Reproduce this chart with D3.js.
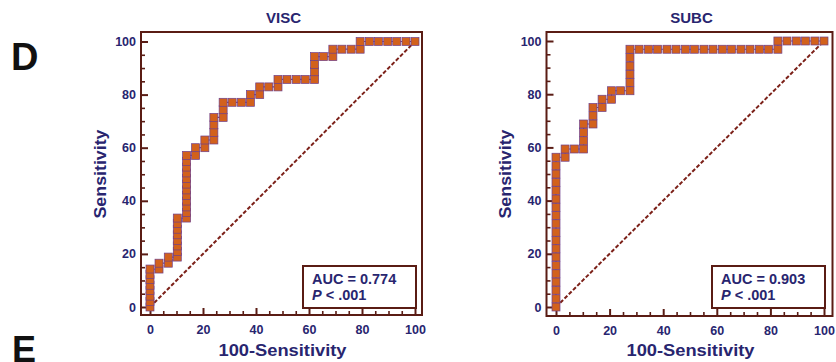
<!DOCTYPE html>
<html>
<head>
<meta charset="utf-8">
<script src="https://cdn.jsdelivr.net/npm/d3@7"></script>
<style>
body { margin: 0; background: #fff; }
svg { display: block; font-family: "Liberation Sans", Arial, sans-serif; }
</style>
</head>
<body>
<svg id="chart" width="836" height="362"></svg>
<script>
// ROC points (100-specificity, sensitivity)
const viscX = [0, 0, 0, 0, 0, 0, 0, 0,
    3.4, 3.4, 6.9, 6.9,
    10.3, 10.3, 10.3, 10.3, 10.3, 10.3, 10.3, 10.3,
    13.8, 13.8, 13.8, 13.8, 13.8, 13.8, 13.8, 13.8, 13.8, 13.8, 13.8, 13.8,
    17.2, 17.2, 20.7, 20.7,
    24.1, 24.1, 24.1, 24.1, 27.6, 27.6, 27.6,
    31.0, 34.5, 37.9, 37.9, 41.4, 41.4, 44.8, 48.3, 48.3,
    51.7, 55.2, 58.6, 62.1, 62.1, 62.1, 62.1,
    65.5, 69.0, 69.0, 72.4, 75.9, 79.3, 79.3,
    82.8, 86.2, 89.7, 93.1, 96.6, 100]
const viscY = [0, 2.1, 4.1, 6.2, 8.2, 10.3, 12.3, 14.3,
    14.3, 16.5, 16.5, 18.8,
    18.8, 20.9, 23.0, 25.1, 27.2, 29.3, 31.4, 33.5,
    33.5, 35.6, 37.7, 39.9, 42.0, 44.1, 46.3, 48.4, 50.5, 52.7, 54.8, 57.1,
    57.1, 60.0, 60.0, 62.9,
    62.9, 65.7, 68.6, 71.4, 71.4, 74.3, 77.1,
    77.1, 77.1, 77.1, 80.0, 80.0, 82.9, 82.9, 82.9, 85.7,
    85.7, 85.7, 85.7, 85.7, 88.6, 91.4, 94.3,
    94.3, 94.3, 97.1, 97.1, 97.1, 97.1, 100,
    100, 100, 100, 100, 100, 100]

const subcX = [0, 0, 0, 0, 0, 0, 0, 0, 0, 0, 0, 0, 0, 0, 0, 0, 0, 0, 0,
    3.4, 3.4, 6.9, 10.3, 10.3, 10.3, 10.3,
    13.8, 13.8, 13.8, 17.2, 17.2, 20.7, 20.7, 24.1,
    27.6, 27.6, 27.6, 27.6, 27.6, 27.6,
    31.0, 34.5, 37.9, 41.4, 44.8, 48.3, 51.7, 55.2, 58.6, 62.1, 65.5, 69.0, 72.4, 75.9, 79.3,
    82.8, 82.8, 86.2, 89.7, 93.1, 96.6, 100]
const subcY = [0, 3.1, 6.3, 9.4, 12.5, 15.6, 18.8, 21.9, 25.0, 28.1, 31.3, 34.4, 37.5, 40.6, 43.8, 46.9, 50.0, 53.1, 56.3,
    56.3, 59.4, 59.4, 59.4, 62.5, 65.6, 68.8,
    68.8, 71.9, 75.0, 75.0, 78.1, 78.1, 81.3, 81.3,
    81.3, 84.4, 87.5, 90.6, 93.8, 96.9,
    96.9, 96.9, 96.9, 96.9, 96.9, 96.9, 96.9, 96.9, 96.9, 96.9, 96.9, 96.9, 96.9, 96.9, 96.9,
    96.9, 100, 100, 100, 100, 100, 100]

const panelTitles = ['VISC', 'SUBC']
const aucLabels = ['AUC = 0.774', 'AUC = 0.903']
const pLabels = ['< .001', '< .001']
const majorTicks = [0, 20, 40, 60, 80, 100]
const minorTicks = [5, 10, 15, 25, 30, 35, 45, 50, 55, 65, 70, 75, 85, 90, 95]

const navy = '#28256f'
const brown = '#5a1c14'
const diagColor = '#7c2119'
const markFill = '#d2611c'
const markStroke = '#6e3f8c'

const svg = d3.select('#chart')

// panel letters
svg.append('text').attr('x', 11).attr('y', 70).text('D')
    .attr('font-size', '38px').attr('font-weight', 'bold').attr('fill', '#111')
svg.append('text').attr('x', 12).attr('y', 362).text('E')
    .attr('font-size', '36px').attr('font-weight', 'bold').attr('fill', '#111')

const panels = [
    { fx0: 141, fx1: 422, fy0: 32, fy1: 315, xr: [150, 415], yr: [307, 41.5], ytX: 106, xs: viscX, ys: viscY },
    { fx0: 546.5, fx1: 832.5, fy0: 32, fy1: 316, xr: [556, 824], yr: [307, 41], ytX: 511, xs: subcX, ys: subcY },
]

panels.forEach(function (p, i) {
    let x = d3.scaleLinear().domain([0, 100]).range(p.xr)
    let y = d3.scaleLinear().domain([0, 100]).range(p.yr)
    let g = svg.append('g')
    let cx = (p.fx0 + p.fx1) / 2

    // minor ticks
    g.append('g')
        .attr('transform', 'translate(' + p.fx0 + ',0)')
        .call(d3.axisLeft(y).tickValues(minorTicks).tickSizeInner(-4).tickSizeOuter(0).tickFormat(''))
    g.append('g')
        .attr('transform', 'translate(0,' + p.fy1 + ')')
        .call(d3.axisBottom(x).tickValues(minorTicks).tickSizeInner(-4).tickSizeOuter(0).tickFormat(''))

    // major ticks + labels
    g.append('g')
        .attr('class', 'major')
        .attr('transform', 'translate(' + p.fx0 + ',0)')
        .call(d3.axisLeft(y).tickValues(majorTicks).tickSizeInner(-7).tickSizeOuter(0).tickPadding(5))
    g.append('g')
        .attr('class', 'major')
        .attr('transform', 'translate(0,' + p.fy1 + ')')
        .call(d3.axisBottom(x).tickValues(majorTicks).tickSizeInner(-7).tickSizeOuter(0).tickPadding(10))

    g.selectAll('.domain').remove()
    g.selectAll('.tick line').attr('stroke', brown).attr('stroke-width', 1.6)
    g.selectAll('.major .tick line').attr('stroke-width', 2)
    g.selectAll('.tick text')
        .attr('fill', navy)
        .attr('font-size', '12.5px')
        .attr('font-weight', 'bold')
        .attr('font-family', '"Liberation Sans", Arial, sans-serif')

    // frame
    g.append('rect')
        .attr('x', p.fx0).attr('y', p.fy0)
        .attr('width', p.fx1 - p.fx0).attr('height', p.fy1 - p.fy0)
        .attr('fill', 'none').attr('stroke', brown).attr('stroke-width', 2)

    // chance diagonal
    g.append('line')
        .attr('x1', x(0)).attr('y1', y(0))
        .attr('x2', x(100)).attr('y2', y(100))
        .attr('stroke', diagColor).attr('stroke-width', 2)
        .attr('stroke-dasharray', '4,2')

    // ROC curve
    let pts = p.xs.map(function (v, k) { return [v, p.ys[k]] })
    g.append('path')
        .datum(pts)
        .attr('d', d3.line().x(d => x(d[0])).y(d => y(d[1])))
        .attr('fill', 'none').attr('stroke', markStroke).attr('stroke-width', 1.2)
    g.selectAll('rect.mark')
        .data(pts)
        .enter()
        .append('rect')
        .attr('class', 'mark')
        .attr('x', d => x(d[0]) - 4)
        .attr('y', d => y(d[1]) - 4)
        .attr('width', 8).attr('height', 8)
        .attr('fill', markFill).attr('stroke', markStroke).attr('stroke-width', 0.7)

    // AUC box
    let bx = x(100) + 1 - 113
    let by = y(0) + 1 - 42
    g.append('rect')
        .attr('x', bx).attr('y', by).attr('width', 113).attr('height', 42)
        .attr('fill', '#fff').attr('stroke', brown).attr('stroke-width', 2)
    g.append('text')
        .attr('x', bx + 9).attr('y', by + 17.5)
        .attr('fill', navy).attr('font-size', '14.5px').attr('font-weight', 'bold')
        .text(aucLabels[i])
    let pt = g.append('text')
        .attr('x', bx + 9).attr('y', by + 34)
        .attr('fill', navy).attr('font-size', '14.5px').attr('font-weight', 'bold')
    pt.append('tspan').attr('font-style', 'italic').text('P')
    pt.append('tspan').text(' ' + pLabels[i])

    // titles
    g.append('text')
        .attr('x', cx + 2).attr('y', 22.5)
        .attr('text-anchor', 'middle')
        .attr('fill', navy).attr('font-size', '15px').attr('font-weight', 'bold')
        .text(panelTitles[i])
    g.append('text')
        .attr('x', cx + 1).attr('y', 356)
        .attr('text-anchor', 'middle')
        .attr('fill', navy).attr('font-size', '16px').attr('font-weight', 'bold')
        .attr('textLength', 128).attr('lengthAdjust', 'spacingAndGlyphs')
        .text('100-Sensitivity')
    g.append('text')
        .attr('transform', 'translate(' + p.ytX + ',174) rotate(-90)')
        .attr('text-anchor', 'middle')
        .attr('fill', navy).attr('font-size', '16px').attr('font-weight', 'bold')
        .attr('textLength', 89).attr('lengthAdjust', 'spacingAndGlyphs')
        .text('Sensitivity')
})
</script>
</body>
</html>
